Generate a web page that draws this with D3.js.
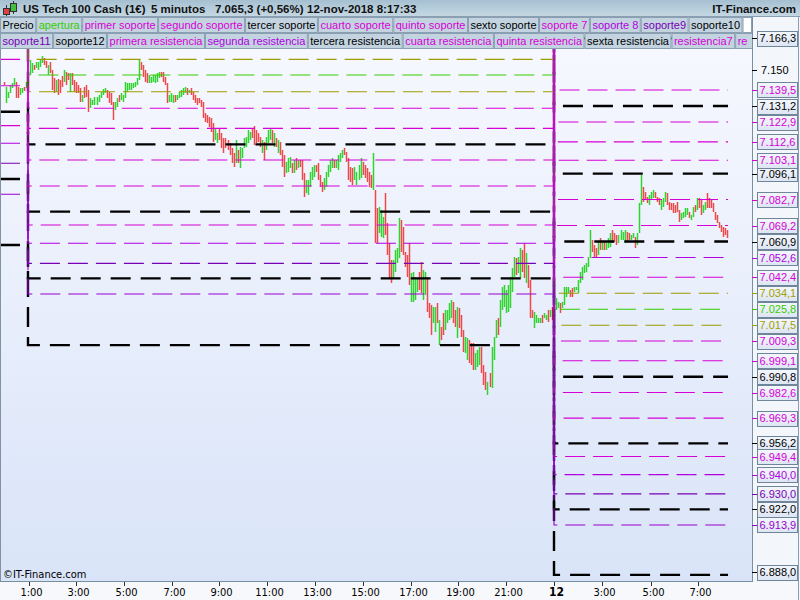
<!DOCTYPE html>
<html><head><meta charset="utf-8">
<script src="https://cdn.jsdelivr.net/npm/d3@7"></script>
<style>html,body{margin:0;padding:0;background:#f3f6fb;}svg{display:block;font-family:"Liberation Sans",Arial,sans-serif;}</style>
</head><body><svg id="c" width="800" height="600"></svg>
<script>
// ---------- DATA ----------
const titleTexts = ["US Tech 100 Cash (1€)", "5 minutos", "7.065,3 (+0,56%)", "12-nov-2018 8:17:33"];
const siteName = "IT-Finance.com";
const legendRow1 = ["Precio","apertura","primer soporte","segundo soporte","tercer soporte","cuarto soporte","quinto soporte","sexto soporte","soporte 7","soporte 8","soporte9","soporte10"];
const legendRow2 = ["soporte11","soporte12","primera resistencia","segunda resistencia","tercera resistencia","cuarta resistencia","quinta resistencia","sexta resistencia","resistencia7","resistencia8"];
const tickLabels = ["1:00","3:00","5:00","7:00","9:00","11:00","13:00","15:00","17:00","19:00","21:00","12","3:00","5:00","7:00"];
const tickIdx = [12.5,36,59.5,83.5,107,130.5,154.5,178,202,225.5,249,273,297,321,344.5];
const yTicks = [7150];
const sessionBreaks = [12, 273];
const stubStart = 0, dayStart = 13, todayStart = 274;

// previous-day tail (bars)
const stubHigh = [7143.9,7141.3,7138.7,7142.1,7143.0,7145.6,7143.9,7141.3,7140.4,7140.4,7141.3,7143.9];
const stubLow  = [7142.1,7132.6,7135.2,7137.8,7140.4,7142.1,7135.2,7135.2,7137.0,7137.8,7139.0,7140.4];
const stubUp   = [0,1,1,1,1,1,0,0,1,1,0,1];

// full prior session
const dayHigh = [
7155.1,7153.3,7152.5,7154.2,7154.2,7155.1,7157.2,7155.9,7154.7,7152.5,
7154.2,7149.9,7145.6,7144.7,7145.0,7144.7,7146.8,7149.9,7149.0,7148.2,
7148.2,7148.2,7144.7,7143.8,7142.1,7140.4,7136.9,7141.2,7142.1,7139.5,
7135.2,7134.3,7136.1,7136.1,7136.9,7138.6,7139.9,7140.4,7139.5,7138.6,
7137.8,7133.5,7133.5,7135.2,7136.9,7137.8,7136.9,7143.8,7143.3,7143.0,
7143.3,7143.0,7143.8,7145.6,7155.4,7154.2,7152.5,7149.9,7148.2,7147.3,
7146.4,7147.3,7147.3,7148.2,7149.0,7149.0,7149.0,7146.4,7143.0,7136.9,
7137.8,7136.9,7136.9,7136.9,7138.6,7139.5,7140.4,7141.2,7140.4,7139.5,
7140.4,7138.6,7136.9,7135.2,7135.2,7134.3,7133.5,7127.4,7126.5,7125.7,
7124.8,7122.2,7119.6,7117.0,7119.6,7117.0,7114.4,7114.4,7113.6,7111.9,
7109.3,7106.7,7113.6,7108.4,7110.1,7109.3,7114.4,7115.3,7118.8,7117.9,
7119.6,7120.8,7118.8,7117.0,7115.3,7113.6,7112.7,7115.3,7118.8,7119.6,
7118.8,7117.0,7114.4,7113.6,7112.7,7108.4,7105.8,7102.4,7104.1,7104.9,
7101.5,7103.2,7104.1,7103.2,7103.2,7103.2,7096.3,7092.8,7092.8,7097.2,
7099.7,7100.6,7100.6,7101.5,7095.4,7092.0,7093.7,7097.2,7100.6,7103.2,
7104.1,7103.2,7103.2,7105.8,7106.7,7108.4,7109.3,7107.5,7104.1,7099.7,
7098.9,7099.7,7097.2,7100.6,7104.1,7102.4,7100.6,7098.9,7097.2,7095.4,
7106.7,7087.6,7078.1,7079.0,7077.3,7073.8,7085.9,7070.4,7060.0,7051.3,
7051.3,7056.5,7057.4,7073.0,7072.1,7068.6,7055.7,7053.9,7060.0,7044.4,
7045.3,7042.7,7041.8,7045.3,7050.5,7046.2,7045.3,7042.7,7028.9,7028.0,
7027.1,7027.1,7028.9,7020.2,7016.8,7023.7,7025.4,7025.4,7028.9,7030.6,
7029.7,7025.4,7027.1,7026.3,7022.8,7015.0,7011.6,7010.7,7009.8,7008.1,
7008.1,7002.9,7004.6,7006.4,7006.4,6996.9,6993.4,6988.2,6992.6,7006.4,
7011.6,7020.2,7021.1,7030.6,7037.5,7038.4,7035.8,7038.4,7042.7,7047.0,
7053.1,7052.2,7053.1,7057.4,7056.5,7060.0,7054.8,7048.7,7041.0,7025.4,
7024.5,7022.8,7021.1,7021.1,7022.8,7023.7,7022.8,7025.4,7025.4,7027.1];
const dayLow = [
7147.3,7148.2,7149.9,7150.7,7149.9,7151.6,7153.3,7152.5,7150.7,7147.3,
7148.2,7139.5,7137.8,7138.6,7136.9,7137.8,7141.2,7143.8,7142.1,7144.7,
7138.6,7142.1,7138.6,7137.8,7137.8,7133.5,7133.5,7135.2,7136.1,7128.3,
7130.0,7131.7,7131.7,7131.7,7133.5,7135.2,7136.9,7137.8,7135.2,7132.6,
7131.7,7123.9,7129.1,7130.9,7133.5,7134.3,7133.5,7135.2,7138.6,7139.5,
7139.5,7140.4,7141.2,7142.1,7144.7,7149.9,7146.4,7143.8,7143.0,7143.0,
7143.0,7143.8,7143.0,7143.8,7145.6,7146.4,7143.8,7142.1,7132.6,7133.5,
7133.5,7132.6,7133.5,7134.3,7135.2,7136.1,7136.9,7137.8,7136.9,7137.8,
7136.9,7134.3,7132.6,7131.7,7132.6,7130.9,7124.8,7123.1,7122.2,7120.5,
7117.9,7112.7,7113.6,7111.9,7113.6,7109.3,7106.7,7109.3,7108.4,7105.8,
7101.5,7099.7,7101.5,7101.5,7098.9,7104.1,7109.3,7110.1,7111.9,7113.6,
7114.4,7111.0,7111.9,7112.7,7110.1,7106.7,7103.2,7108.4,7111.9,7113.6,
7111.9,7110.1,7110.1,7106.7,7105.8,7099.7,7094.6,7096.3,7097.2,7098.9,
7096.3,7096.3,7098.0,7098.9,7099.7,7092.8,7084.2,7085.9,7085.1,7089.4,
7092.8,7094.6,7097.2,7092.8,7089.4,7086.8,7087.6,7089.4,7094.6,7097.2,
7098.9,7098.9,7098.9,7098.0,7102.4,7104.1,7105.8,7102.4,7092.8,7092.0,
7090.2,7092.8,7090.2,7092.8,7093.7,7095.4,7093.7,7092.0,7089.4,7088.5,
7087.6,7060.0,7060.0,7065.2,7063.4,7062.6,7064.3,7053.9,7041.8,7039.2,
7041.8,7045.3,7049.6,7052.2,7055.7,7053.9,7047.9,7042.7,7038.4,7029.7,
7029.7,7030.6,7034.9,7035.8,7034.0,7030.6,7033.2,7024.5,7021.1,7012.4,
7018.5,7014.2,7018.5,7007.2,7009.8,7012.4,7015.0,7018.5,7020.2,7021.1,
7018.5,7016.8,7010.7,7015.9,7011.6,7003.8,7002.9,6999.5,6997.7,6996.9,
6994.3,6994.3,6996.0,6996.9,6992.6,6986.5,6984.0,6981.3,6985.7,6984.8,
6999.5,7010.7,7012.4,7016.8,7025.4,7027.1,7023.7,7024.5,7026.3,7034.9,
7042.7,7043.6,7044.4,7041.8,7045.3,7041.8,7039.2,7036.6,7021.1,7021.1,
7015.9,7018.5,7018.5,7018.5,7018.5,7021.1,7020.2,7019.4,7022.0,7020.2];
const dayUp = [
1,1,0,1,1,1,1,0,0,1, 0,0,0,1,0,0,0,1,0,0, 1,0,0,0,0,0,1,0,0,0, 1,1,1,1,1,1,1,1,0,0,
0,0,1,1,0,1,1,1,1,1, 1,1,1,1,1,0,0,0,0,1, 1,1,1,1,1,0,0,0,0,1, 1,1,0,1,1,1,1,1,0,1,
0,0,0,0,0,0,0,0,0,0, 0,0,1,1,0,0,0,0,0,0, 0,0,1,0,1,1,1,1,1,1, 0,0,0,0,0,1,0,1,1,1,
0,1,0,1,0,0,0,1,1,1, 0,1,0,1,0,0,0,1,1,1, 1,1,0,0,0,0,1,1,1,1, 1,0,1,1,1,1,0,0,0,0,
0,1,1,1,1,0,0,0,0,0, 1,0,0,1,1,1,0,0,0,0, 1,1,1,1,0,0,0,0,0,1, 1,1,1,0,0,1,1,0,0,0,
1,1,0,1,0,0,1,1,1,1, 0,0,1,0,0,0,1,1,0,0, 0,1,1,1,0,0,0,1,0,1, 1,1,0,1,1,1,1,1,1,1,
1,0,1,1,0,0,1,0,0,0, 1,1,1,1,0,1,1,0,1,0];

// current session
const todayHigh = [
7031.5,7029.7,7028.9,7029.7,7037.5,7037.5,7037.5,7035.8,7036.6,7037.5,
7037.5,7041.0,7045.3,7047.9,7048.7,7049.6,7053.1,7066.9,7061.7,7059.1,
7057.4,7060.9,7062.6,7060.9,7060.9,7060.0,7062.6,7065.2,7066.9,7065.2,
7064.3,7064.3,7066.9,7066.0,7066.9,7066.0,7065.2,7064.3,7065.2,7063.4,
7065.2,7080.7,7095.4,7089.4,7086.8,7084.2,7085.1,7086.8,7087.7,7086.8,
7084.2,7083.3,7082.5,7083.3,7086.8,7085.9,7081.6,7080.7,7080.7,7079.9,
7081.6,7077.3,7075.6,7076.4,7078.1,7078.1,7076.4,7074.7,7079.0,7079.9,
7083.3,7083.3,7082.5,7079.9,7081.6,7085.9,7083.3,7082.5,7080.7,7076.4,
7074.7,7071.2,7069.5,7068.6,7067.8,7066.9];
const todayLow = [
7025.4,7026.3,7023.7,7026.3,7028.0,7032.3,7034.0,7032.3,7032.3,7034.9,
7035.8,7034.0,7039.2,7041.0,7044.4,7045.3,7047.9,7052.2,7055.7,7053.1,
7053.1,7053.9,7056.5,7056.5,7056.5,7056.5,7057.4,7058.3,7060.0,7060.9,
7059.1,7060.0,7061.7,7061.7,7060.0,7060.9,7061.7,7061.7,7062.6,7057.4,
7059.1,7065.2,7079.9,7081.6,7082.5,7080.7,7079.9,7082.5,7083.3,7083.3,
7081.6,7079.9,7077.3,7079.0,7081.6,7079.9,7077.3,7077.3,7075.6,7075.6,
7076.4,7071.2,7072.1,7073.0,7073.8,7074.7,7073.0,7072.1,7073.8,7076.4,
7077.3,7078.1,7074.7,7075.6,7077.3,7078.1,7078.1,7078.1,7076.4,7072.1,
7070.4,7067.8,7066.0,7063.4,7064.3,7062.6];
const todayUp = [
1,1,0,1,1,1,1,0,0,1, 1,1,1,1,1,1,1,1,0,0, 0,1,0,1,0,1,1,1,0,0, 0,1,1,1,1,0,0,1,1,0,
1,1,1,0,0,0,1,1,1,0, 0,0,1,1,1,0,0,0,0,0, 0,0,1,1,1,1,0,1,1,0, 1,0,0,1,1,0,0,0,0,0,
0,0,0,0,0,0];

// pivot levels: order = apertura, upper band, lower band, soporte 1..12, resistencia 1..12
const stubLevels  = [7200.0,7209.0,7191.0,7183.0,7172.0,7165.5,7155.4,7141.7,7128.2,7121.0,7111.9,7101.5,7093.3,7085.4,7059.1,
                     7215.0,7225.0,7235.0,7245.0,7258.0,7271.0,7278.0,7288.0,7298.0,7306.0,7314.0,7340.0];
const leftLevels  = [7147.3,7155.4,7138.6,7130.0,7119.6,7111.3,7103.2,7089.7,7076.4,7069.5,7060.0,7049.6,7041.8,7033.7,7007.2,
                     7164.0,7172.5,7180.8,7189.0,7202.5,7215.8,7223.0,7232.5,7242.6,7251.0,7259.2,7286.0];
const rightLevels = [7025.8,7034.1,7017.5,7009.3,6999.1,6990.8,6982.6,6969.3,6956.2,6949.4,6940.0,6930.0,6922.0,6913.9,6888.0,
                     7042.4,7052.6,7060.9,7069.2,7082.7,7096.1,7103.1,7112.6,7122.9,7131.2,7139.5,7166.3];

// ---------- STYLE ----------
const M="#d600d6", P1="#b000e0", P2="#7800b4", P3="#9a00d0", K="#000000", OL="#9c9c00", GR="#33cc00";
const levelColors = [GR,OL,OL, M,M,K,M,M,K,M,P1,P2,K,P3,K, M,P1,K,M,M,K,M,M,M,K,M,K];
const labelColors = levelColors.map(c => c===OL ? "#a0a000" : c);
const legendColors1 = [K,GR,M,M,K,M,M,K,M,P1,P2,K];
const legendColors2 = [P2,K,M,P1,K,M,M,K,M,M];
const upColor="#2fd42f", downColor="#f04848";

// ---------- CHART ----------
const svg = d3.select("#c");
const plotL=0, plotR=752, plotT=17, plotB=581;
const loc = d3.formatLocale({decimal:",", thousands:".", grouping:[3], currency:["","€"]});
const f1 = loc.format(",.1f"), f0 = loc.format(",.0f");
const x = d3.scaleLinear().domain([0,359]).range([3.8, 3.8+359*2.0154]);
const y = d3.scaleLinear().domain([6888,7131.2]).range([574.9,106]);

const defs = svg.append("defs");
const g1 = defs.append("linearGradient").attr("id","bg").attr("x1",0).attr("y1",0).attr("x2",0).attr("y2",1);
g1.append("stop").attr("offset","0%").attr("stop-color","#f8f9ff");
g1.append("stop").attr("offset","100%").attr("stop-color","#d9e4f8");
const g2 = defs.append("linearGradient").attr("id","hd").attr("x1",0).attr("y1",0).attr("x2",0).attr("y2",1);
g2.append("stop").attr("offset","0%").attr("stop-color","#a6c0d1");
g2.append("stop").attr("offset","100%").attr("stop-color","#c6d9e4");
const g3 = defs.append("linearGradient").attr("id","lb").attr("x1",0).attr("y1",0).attr("x2",0).attr("y2",1);
g3.append("stop").attr("offset","0%").attr("stop-color","#f4f7fd");
g3.append("stop").attr("offset","100%").attr("stop-color","#dde5f3");
defs.append("clipPath").attr("id","clip").append("rect").attr("x",plotL).attr("y",plotT).attr("width",plotR-plotL).attr("height",plotB-plotT);

svg.append("rect").attr("width",800).attr("height",600).attr("fill","#f3f6fb");
svg.append("rect").attr("x",plotL).attr("y",plotT).attr("width",plotR-plotL).attr("height",plotB-plotT).attr("fill","url(#bg)");

const plot = svg.append("g").attr("clip-path","url(#clip)");

// bars
function drawBars(hi, lo, up, start){
  plot.append("g").selectAll("line").data(hi).join("line")
    .attr("x1",(d,i)=>Math.round(x(start+i))+0.5).attr("x2",(d,i)=>Math.round(x(start+i))+0.5)
    .attr("y1",d=>Math.round(y(d))).attr("y2",(d,i)=>Math.max(Math.round(y(lo[i])), Math.round(y(d))+2))
    .attr("stroke",(d,i)=>up[i]?upColor:downColor).attr("stroke-width",1.5);
}
drawBars(stubHigh, stubLow, stubUp, stubStart);
drawBars(dayHigh, dayLow, dayUp, dayStart);
drawBars(todayHigh, todayLow, todayUp, todayStart);

// level step lines (black first, coloured on top)
const order = d3.range(rightLevels.length).sort((a,b)=>(levelColors[b]===K)-(levelColors[a]===K));
order.forEach(k=>{
  const isK = levelColors[k]===K;
  const p = `M${x(-1.9)},${y(stubLevels[k])}H${x(sessionBreaks[0])}V${y(leftLevels[k])}H${x(sessionBreaks[1])}V${y(rightLevels[k])}H${x(359.35)}`;
  plot.append("path").attr("d",p).attr("fill","none")
    .attr("stroke",levelColors[k]).attr("stroke-width",isK?2.4:1.1)
    .attr("stroke-dasharray",isK?"20,10":"20,8");
});

// borders
svg.append("line").attr("x1",0.5).attr("x2",0.5).attr("y1",plotT).attr("y2",plotB).attr("stroke","#8092a4");
svg.append("line").attr("x1",plotR+0.5).attr("x2",plotR+0.5).attr("y1",plotT).attr("y2",plotB).attr("stroke","#7a8ea2");
svg.append("line").attr("x1",0).attr("x2",plotR+1).attr("y1",plotB+0.5).attr("y2",plotB+0.5).attr("stroke","#7a8ea2");
svg.append("line").attr("x1",798.5).attr("x2",798.5).attr("y1",17).attr("y2",600).attr("stroke","#8a9cae");

// legend
defs.append("clipPath").attr("id","legclip").append("rect").attr("x",0).attr("y",17).attr("width",plotR).attr("height",33);
const leg = svg.append("g").attr("clip-path","url(#legclip)").style("font-size","11px");
function legendRow(names, colors, top, endWhite){
  let cx = 0;
  names.forEach((n,i)=>{
    const g = leg.append("g");
    const r = g.append("rect").attr("y",top+0.5).attr("height",15).attr("fill","#c3d4e0").attr("stroke","#8aa0b2");
    const t = g.append("text").attr("y",top+12).attr("fill",colors[i]).text(n);
    const w = t.node().getComputedTextLength()+4;
    r.attr("x",cx+0.5).attr("width",w);
    t.attr("x",cx+2.5);
    // item runs past the plot edge: cut the label where the panel ends
    let s = n;
    while (s.length > 1 && cx + 2.5 + t.node().getComputedTextLength() > plotR) { s = s.slice(0,-1); t.text(s); }
    cx += w+1;
  });
  if(endWhite) leg.append("rect").attr("x",cx+0.5).attr("y",top+0.5).attr("width",plotR-cx-1).attr("height",15).attr("fill","#ffffff").attr("stroke","#8aa0b2");
}
legendRow(legendRow1, legendColors1, 17, true);
legendRow(legendRow2, legendColors2, 33, false);

// header
svg.append("rect").attr("x",0).attr("y",0).attr("width",800).attr("height",17).attr("fill","url(#hd)");
svg.append("line").attr("x1",0).attr("x2",800).attr("y1",16.5).attr("y2",16.5).attr("stroke","#8aa0b2");
const ic = svg.append("g");
ic.append("line").attr("x1",6.5).attr("x2",6.5).attr("y1",5).attr("y2",16).attr("stroke","#333");
ic.append("rect").attr("x",3.5).attr("y",8.5).attr("width",6).attr("height",6).attr("fill","#e04040").attr("stroke","#333");
ic.append("line").attr("x1",13.5).attr("x2",13.5).attr("y1",1).attr("y2",14).attr("stroke","#333");
ic.append("rect").attr("x",10.5).attr("y",3.5).attr("width",6).attr("height",8).attr("fill","#40c040").attr("stroke","#333");
const hx = [23,151,215,307];
titleTexts.forEach((t,i)=>svg.append("text").attr("x",hx[i]).attr("y",13).attr("font-weight","bold").attr("font-size","11.5px").attr("fill","#111").text(t));
svg.append("text").attr("x",796).attr("y",13).attr("text-anchor","end").attr("font-weight","bold").attr("font-size","11.5px").attr("fill","#111").text(siteName);

// y axis plain ticks
yTicks.forEach(v=>{
  svg.append("line").attr("x1",plotR).attr("x2",plotR+5).attr("y1",Math.round(y(v))+0.5).attr("y2",Math.round(y(v))+0.5).attr("stroke","#000");
  svg.append("text").attr("x",761).attr("y",y(v)+4).attr("font-size","11px").attr("fill","#000").text(f0(v));
});
// y axis level labels (current session)
rightLevels.forEach((v,k)=>{
  const cy = Math.min(y(v), 572);
  const g = svg.append("g");
  g.append("line").attr("x1",plotR).attr("x2",plotR+5).attr("y1",Math.round(cy)+0.5).attr("y2",Math.round(cy)+0.5).attr("stroke",labelColors[k]);
  g.append("rect").attr("x",757.5).attr("y",Math.round(cy-7.5)+0.5).attr("width",40).attr("height",15).attr("fill","url(#lb)").attr("stroke","#6f8599");
  g.append("text").attr("x",759.5).attr("y",cy+4).attr("font-size","11px").attr("fill",labelColors[k]).text(f1(v));
});

// x axis
svg.append("rect").attr("x",0).attr("y",plotB+1).attr("width",798).attr("height",600-plotB-1).attr("fill","#f7f8fb");
tickLabels.forEach((t,i)=>{
  const px = Math.round(x(tickIdx[i]))+0.5;
  svg.append("line").attr("x1",px).attr("x2",px).attr("y1",plotB+1).attr("y2",plotB+5).attr("stroke","#333");
  svg.append("text").attr("x",px+2).attr("y",596).attr("text-anchor","middle")
    .style("font-family","'Liberation Sans Narrow','DejaVu Sans Condensed',Arial,sans-serif")
    .attr("font-size",t==="12"?"12px":"11px").attr("font-weight",t==="12"?"bold":"normal").attr("fill","#000").text(t);
});
svg.append("text").attr("x",3).attr("y",578).style("font-family","'Liberation Sans Narrow','DejaVu Sans Condensed',Arial,sans-serif")
  .attr("font-size","11px").attr("fill","#000").text("©" + siteName);
</script></body></html>
